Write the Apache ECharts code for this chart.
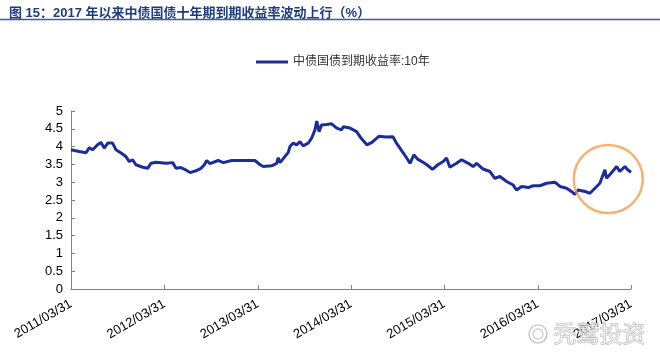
<!DOCTYPE html>
<html>
<head>
<meta charset="utf-8">
<script src="https://cdn.jsdelivr.net/npm/echarts@6/dist/echarts.min.js"></script>
<style>
html,body{margin:0;padding:0;background:#fff;}
#chart{width:660px;height:352px;}
</style>
</head>
<body>
<div id="chart"></div>
<script>
const titleText = '图 15：2017 年以来中债国债十年期到期收益率波动上行（%）';
const seriesName = '中债国债到期收益率:10年';
const watermarkText = '秃鹫投资';
const xTickLabels = ['2011/03/31','2012/03/31','2013/03/31','2014/03/31','2015/03/31','2016/03/31','2017/03/31'];
const dates = ['2011-03-31','2011-05-02','2011-05-29','2011-06-11','2011-06-24','2011-07-13','2011-07-26','2011-08-08','2011-08-22','2011-09-10','2011-09-23','2011-10-13','2011-11-01','2011-11-14','2011-11-27','2011-12-10',
'2012-01-06','2012-01-25','2012-02-07','2012-02-27','2012-04-06','2012-05-02','2012-05-15','2012-06-03','2012-06-16','2012-06-23','2012-07-09','2012-08-01','2012-08-21','2012-09-03','2012-09-12','2012-09-25','2012-10-27','2012-11-16','2012-12-19',
'2013-02-02','2013-03-20','2013-04-09','2013-04-22','2013-05-24','2013-06-13','2013-06-19','2013-06-26','2013-07-15','2013-07-28','2013-08-04','2013-08-17','2013-08-30','2013-09-12','2013-09-25','2013-10-15','2013-10-28','2013-11-10','2013-11-17','2013-11-26','2013-12-06','2013-12-26',
'2014-01-14','2014-02-03','2014-02-22','2014-03-01','2014-03-27','2014-04-22','2014-05-09','2014-06-01','2014-06-21','2014-07-18','2014-08-15','2014-09-11','2014-09-23','2014-10-12','2014-11-04','2014-11-17','2014-12-02','2014-12-18',
'2015-01-07','2015-01-22','2015-02-13','2015-03-06','2015-03-27','2015-04-09','2015-04-22','2015-05-18','2015-06-07','2015-07-03','2015-07-22','2015-08-05','2015-08-30','2015-09-26','2015-10-15','2015-11-04','2015-11-30','2015-12-26',
'2016-01-08','2016-01-28','2016-02-23','2016-03-13','2016-04-08','2016-05-05','2016-06-06','2016-06-26','2016-07-22','2016-08-10','2016-08-23','2016-09-05','2016-10-02','2016-10-21','2016-11-10','2016-11-29','2016-12-19','2016-12-25',
'2017-01-07','2017-02-03','2017-02-15','2017-03-07','2017-03-18','2017-03-31'];
const yields = [3.91,3.86,3.83,3.97,3.91,4.05,4.12,3.96,4.10,4.10,3.91,3.82,3.72,3.58,3.63,3.49,
3.42,3.39,3.53,3.56,3.53,3.55,3.39,3.41,3.37,3.41,3.27,3.32,3.39,3.49,3.61,3.52,3.61,3.55,3.61,
3.61,3.61,3.49,3.44,3.46,3.53,3.69,3.55,3.72,3.83,4.00,4.10,4.05,4.14,4.02,4.10,4.24,4.47,4.72,4.42,4.61,4.62,
4.64,4.52,4.47,4.56,4.52,4.42,4.24,4.05,4.12,4.29,4.27,4.28,4.12,3.92,3.68,3.53,3.77,3.64,
3.56,3.49,3.36,3.49,3.58,3.68,3.42,3.53,3.63,3.53,3.44,3.53,3.37,3.30,3.11,3.16,3.02,2.92,
2.78,2.88,2.85,2.90,2.90,2.97,3.00,2.88,2.83,2.74,2.66,2.78,2.74,2.69,2.83,2.97,3.35,3.11,
3.21,3.44,3.30,3.44,3.35,3.28];
const highlightPoint = ['2017-01-01', 3.09];
const yMin = 0, yMax = 5, yStep = 0.5;

const toMs = s => {
  const p = s.split(/[\/-]/).map(Number);
  return Date.UTC(p[0], p[1] - 1, p[2]);
};
const pad = n => (n < 10 ? '0' : '') + n;
const fmtDate = v => {
  const d = new Date(v);
  return d.getUTCFullYear() + '/' + pad(d.getUTCMonth() + 1) + '/' + pad(d.getUTCDate());
};
const tickValues = xTickLabels.map(toMs);
const lineData = dates.map((d, i) => [toMs(d), yields[i]]);

const chart = echarts.init(document.getElementById('chart'), null, {renderer: 'canvas'});
const FONT = '"Liberation Sans", Arial, "Noto Sans CJK SC", sans-serif';
chart.setOption({
  animation: false,
  backgroundColor: '#ffffff',
  textStyle: {fontFamily: FONT},
  title: {
    text: titleText,
    left: 4, top: 2,
    textStyle: {fontSize: 13, fontWeight: 'bold', color: '#1f3d7c', fontFamily: FONT}
  },
  graphic: [
    {type: 'line', shape: {x1: 0, y1: 19.5, x2: 660, y2: 19.5}, style: {stroke: '#3b5ca8', lineWidth: 1.5}, silent: true},
    {type: 'circle', shape: {cx: 538, cy: 334, r: 9}, style: {fill: 'rgba(0,0,0,0)', stroke: 'rgba(175,175,175,0.85)', lineWidth: 1.2}, silent: true, z: 100},
    {type: 'circle', shape: {cx: 538, cy: 334, r: 5}, style: {fill: 'rgba(0,0,0,0)', stroke: 'rgba(175,175,175,0.85)', lineWidth: 1}, silent: true, z: 100},
    {type: 'text', left: 553, top: 321, silent: true, z: 100,
     style: {text: watermarkText, fontSize: 23, fontFamily: '"Noto Sans CJK SC", sans-serif', fill: 'rgba(240,240,240,0.7)', stroke: 'rgba(165,165,165,0.85)', lineWidth: 0.8}}
  ],
  legend: {
    data: [seriesName],
    left: 251, top: 51,
    icon: 'rect', itemWidth: 32, itemHeight: 3, itemGap: 10,
    textStyle: {fontSize: 12, color: '#333', fontFamily: FONT}
  },
  grid: {left: 71, right: 29, top: 111, bottom: 63, containLabel: false},
  xAxis: {
    type: 'value',
    min: tickValues[0], max: tickValues[tickValues.length - 1],
    splitLine: {show: false},
    axisLine: {show: true, lineStyle: {color: '#808080', width: 1}},
    axisTick: {show: true, inside: true, length: 4, lineStyle: {color: '#808080'}, customValues: tickValues},
    axisLabel: {
      customValues: tickValues,
      rotate: 30, margin: 14, fontSize: 13, color: '#000', fontFamily: FONT,
      formatter: v => fmtDate(v)
    }
  },
  yAxis: {
    type: 'value', min: yMin, max: yMax, interval: yStep,
    splitLine: {show: false},
    axisLine: {show: true, lineStyle: {color: '#808080', width: 1}},
    axisTick: {show: true, inside: true, length: 4, lineStyle: {color: '#808080'}},
    axisLabel: {fontSize: 13, color: '#000', margin: 8, fontFamily: FONT}
  },
  series: [
    {
      name: seriesName, type: 'line', data: lineData,
      symbol: 'none', smooth: false,
      lineStyle: {color: '#1b2d9a', width: 3},
      itemStyle: {color: '#1b2d9a'}
    },
    {
      name: 'highlight', type: 'scatter',
      data: [[toMs(highlightPoint[0]), highlightPoint[1]]],
      symbol: 'circle', symbolSize: [69, 68], silent: true, z: 5,
      itemStyle: {color: 'rgba(0,0,0,0)', borderColor: '#f2a04b', borderWidth: 2.5}
    }
  ]
});
</script>
</body>
</html>
